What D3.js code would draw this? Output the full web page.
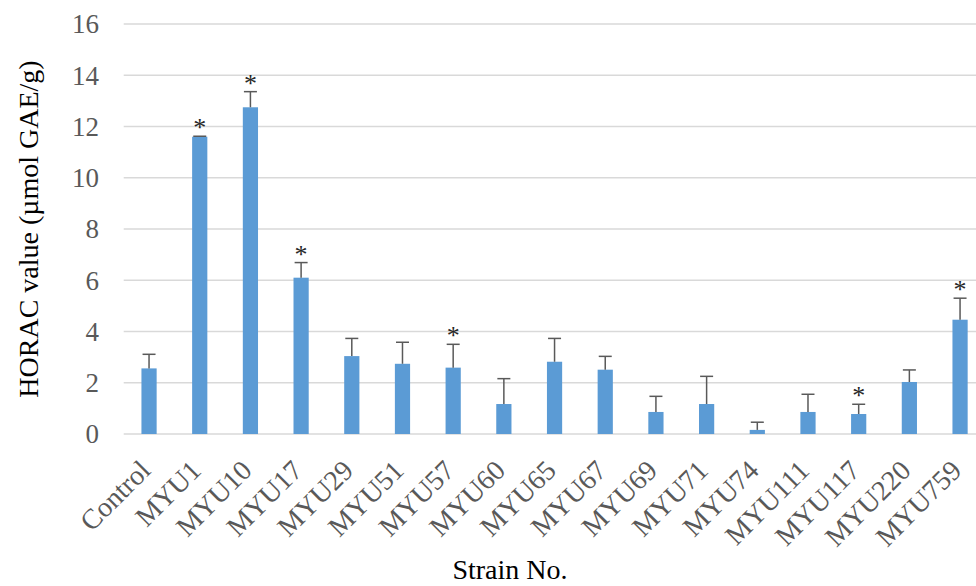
<!DOCTYPE html>
<html><head><meta charset="utf-8">
<script src="https://cdn.jsdelivr.net/npm/d3@7"></script>
<style>body{margin:0;background:#fff}svg{display:block}</style>
</head><body>
<svg id="chart" width="976" height="586"></svg>
<script>
const categories = ["Control","MYU1","MYU10","MYU17","MYU29","MYU51","MYU57","MYU60","MYU65","MYU67","MYU69","MYU71","MYU74","MYU111","MYU117","MYU220","MYU759"];
const values = [2.56,11.60,12.75,6.10,3.04,2.74,2.59,1.17,2.82,2.51,0.86,1.17,0.16,0.86,0.78,2.03,4.46];
const errors = [0.55,0.02,0.61,0.59,0.69,0.84,0.91,0.99,0.91,0.52,0.61,1.08,0.30,0.69,0.38,0.47,0.84];
const significant = [false,true,true,true,false,false,true,false,false,false,false,false,false,false,true,false,true];
const yTicks = [0,2,4,6,8,10,12,14,16];

const svg = d3.select("#chart");
const plotL = 123.7, plotR = 985.4, plotT = 24, plotB = 434;
const x = d3.scaleBand().domain(categories).range([plotL, plotR]).paddingInner(0.7).paddingOuter(0.35);
const y = d3.scaleLinear().domain([0,16]).range([plotB, plotT]);
const serif = "'Liberation Serif','Times New Roman',serif";

svg.append("g").selectAll("line").data(yTicks).join("line")
  .attr("x1", plotL).attr("x2", 976)
  .attr("y1", d => y(d)).attr("y2", d => y(d))
  .attr("stroke", "#d9d9d9").attr("stroke-width", 1.3);

svg.append("g").selectAll("text").data(yTicks).join("text")
  .attr("x", 99).attr("y", d => y(d)).attr("dy", "0.35em")
  .attr("text-anchor", "end")
  .attr("font-family", serif).attr("font-size", 27).attr("fill", "#595959")
  .text(d => d);

const data = categories.map((c,i) => ({c, v: values[i], e: errors[i], s: significant[i]}));

svg.append("g").selectAll("rect").data(data).join("rect")
  .attr("x", d => x(d.c)).attr("width", x.bandwidth())
  .attr("y", d => y(d.v)).attr("height", d => y(0) - y(d.v))
  .attr("fill", "#5b9bd5");

const eb = svg.append("g").attr("stroke", "#595959").attr("stroke-width", 1.5).attr("fill", "none");
data.forEach(d => {
  const cx = x(d.c) + x.bandwidth()/2;
  eb.append("line").attr("x1", cx).attr("x2", cx).attr("y1", y(d.v)).attr("y2", y(d.v + d.e));
  eb.append("line").attr("x1", cx - 6.5).attr("x2", cx + 6.5).attr("y1", y(d.v + d.e)).attr("y2", y(d.v + d.e));
});

svg.append("g").selectAll("text").data(data.filter(d => d.s)).join("text")
  .attr("x", d => x(d.c) + x.bandwidth()/2)
  .attr("y", d => y(d.v + d.e) - 16).attr("dy", "0.62em")
  .attr("text-anchor", "middle")
  .attr("font-family", serif).attr("font-size", 26).attr("fill", "#262626")
  .text("*");

svg.append("g").selectAll("text").data(categories).join("text")
  .attr("transform", d => `translate(${x(d) + x.bandwidth()/2 + 3},472) rotate(-45)`)
  .attr("text-anchor", "end")
  .attr("font-family", serif).attr("font-size", 28).attr("fill", "#595959")
  .text(d => d);

svg.append("text")
  .attr("transform", `translate(28,${(plotT+plotB)/2}) rotate(-90)`)
  .attr("text-anchor", "middle").attr("dy", "0.35em")
  .attr("font-family", serif).attr("font-size", 28).attr("fill", "#000")
  .text("HORAC value (µmol GAE/g)");

svg.append("text")
  .attr("x", 510).attr("y", 579)
  .attr("text-anchor", "middle")
  .attr("font-family", serif).attr("font-size", 28).attr("fill", "#000")
  .text("Strain No.");
</script>
</body></html>
